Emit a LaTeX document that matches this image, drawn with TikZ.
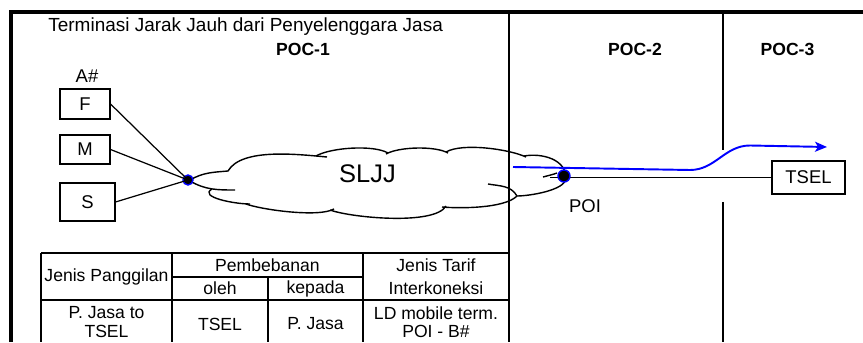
\documentclass[tikz,border=0pt]{standalone}
\usepackage{fontspec}
\setmainfont{Liberation Sans}
\usepackage{tikz}
\usetikzlibrary{positioning,arrows.meta,calc}
\definecolor{flowclr}{RGB}{0,0,255}
\definecolor{lineclr}{RGB}{0,0,0}
\tikzset{
  lbl/.style={inner sep=0pt,font=\fontsize{10.5}{12.6}\selectfont},
  box/.style={rectangle,draw=lineclr,line width=0.6pt,inner sep=0pt,
              font=\fontsize{10.5}{12.6}\selectfont},
  poc/.style={inner sep=0pt,font=\fontsize{10}{12}\selectfont\bfseries},
  cell/.style={inner sep=0pt,align=center,font=\fontsize{10}{13}\selectfont},
  rowcell/.style={cell,font=\fontsize{10}{10.4}\selectfont},
  dot/.style={circle,fill=black,draw=flowclr,line width=0.8pt,inner sep=0pt},
  frame/.style={line width=2.3pt},
  divider/.style={line width=1.4pt},
  grid/.style={line width=1pt},
  cloudline/.style={line width=0.8pt},
  link/.style={line width=0.7pt},
  flow/.style={draw=flowclr,line width=1.1pt,-{Stealth[length=2.4mm,width=2mm,inset=0.6mm]}},
}
\begin{document}
\begin{tikzpicture}
\useasboundingbox (0,0) rectangle (17.26,6.84);

% Frame and POC dividers
\draw[frame] (0.22,0) -- (0.22,6.6) -- (17.26,6.6);
\draw[divider] (10.18,6.6) -- (10.18,0);
\draw[divider] (14.46,6.6) -- (14.46,3.84);
\draw[divider] (14.46,2.8) -- (14.46,0);

% Headings
\node[lbl,anchor=base west,font=\fontsize{10.8}{13}\selectfont] (title) at (0.96,6.2)
  {Terminasi Jarak Jauh dari Penyelenggara Jasa};
\node[poc,anchor=base] (poc1) at (6.06,5.73) {POC-1};
\node[poc,anchor=base] (poc2) at (12.70,5.73) {POC-2};
\node[poc,anchor=base] (poc3) at (15.75,5.73) {POC-3};

% Subscriber boxes (left column)
\node[lbl] (anum) at (1.74,5.32) {A\#};
\node[box,minimum width=1.0cm,minimum height=0.6cm]  (F) at (1.70,4.76) {F};
\node[box,minimum width=1.0cm,minimum height=0.58cm] (M) at (1.70,3.85) {M};
\node[box,minimum width=1.1cm,minimum height=0.76cm] (S) at (1.75,2.80) {S};

% Cloud SLJJ
\draw[cloudline] (3.80,3.24) to[out=30,in=185] (4.56,3.42)
  to[out=60,in=175,looseness=0.7] (6.54,3.70);
\draw[cloudline] (6.32,3.72) to[out=30,in=150,looseness=0.6] (7.76,3.78);
\draw[cloudline] (7.72,3.76) to[out=30,in=150,looseness=0.6] (8.96,3.78);
\draw[cloudline] (8.92,3.80) to[out=30,in=155,looseness=0.6] (10.52,3.70);
\draw[cloudline] (10.48,3.72) to[out=10,in=90] (11.32,3.28)
  to[out=-90,in=0,looseness=0.6] (10.34,2.92);
\draw[cloudline] (10.34,2.92) to[out=-135,in=-5,looseness=0.6] (8.84,2.70);
\draw[cloudline] (8.92,2.72) to[out=-120,in=-20,looseness=0.5] (6.60,2.64);
\draw[cloudline] (6.68,2.66) to[out=-150,in=-20,looseness=0.5] (4.92,2.76);
\draw[cloudline] (5.00,2.76) to[out=180,in=210] (4.24,3.06);
\draw[cloudline] (3.80,3.22) to[out=-30,in=180] (4.70,3.04);
\draw[cloudline] (9.76,3.16) to[out=-10,in=120] (10.34,2.92);
\draw[cloudline] (10.86,3.30) to[out=15,in=200] (11.14,3.38);
\node[lbl,font=\fontsize{14.5}{17}\selectfont] (sljj) at (7.35,3.36) {SLJJ};

% Junction and POI
\node[dot,minimum size=0.2cm]  (jn)  at (3.76,3.24) {};
\node[lbl] (poilbl) at (11.70,2.71) {POI};
\node[box,minimum width=1.46cm,minimum height=0.66cm] (tsel) at (16.17,3.29) {TSEL};
\coordinate (poistub) at (11.00,3.29);

% Edges
\draw[link] (F.east) -- (jn.center);
\draw[link] (M.east) -- (jn.center);
\draw[link] (S.east) -- (jn.center);
\draw[link] (poistub) -- (tsel.west);
\node[dot,minimum size=0.24cm] (poi) at (11.28,3.32) {};

% Call flow
\coordinate (fs)  at (10.26,3.50);
\coordinate (fb1) at (13.80,3.44);
\coordinate (fb2) at (15.00,3.93);
\coordinate (fe)  at (16.54,3.90);
\draw[flow] (fs) -- (fb1) to[out=0,in=180] (fb2) -- (fe);

% Table
\draw[grid] (0.82,1.78) -- (10.18,1.78);
\draw[grid] (3.44,1.30) -- (7.26,1.30);
\draw[grid] (0.82,0.84) -- (10.18,0.84);
\draw[grid] (0.82,1.78) -- (0.82,0);
\draw[grid] (3.44,1.78) -- (3.44,0);
\draw[grid] (5.36,1.30) -- (5.36,0);
\draw[grid] (7.26,1.78) -- (7.26,0);

\node[cell] (jp)   at (2.13,1.31) {Jenis Panggilan};
\node[cell] (pb)   at (5.35,1.54) {Pembebanan};
\node[cell] (oleh) at (4.40,1.07) {oleh};
\node[cell] (kpd)  at (6.31,1.07) {kepada};
\node[cell] (jt)   at (8.72,1.31) {Jenis Tarif\\Interkoneksi};
\node[rowcell] (r1) at (2.13,0.40) {P. Jasa to\\TSEL};
\node[rowcell] (r2) at (4.40,0.36) {TSEL};
\node[rowcell] (r3) at (6.31,0.36) {P. Jasa};
\node[rowcell] (r4) at (8.72,0.40) {LD mobile term.\\POI - B\#};

\end{tikzpicture}
\end{document}
